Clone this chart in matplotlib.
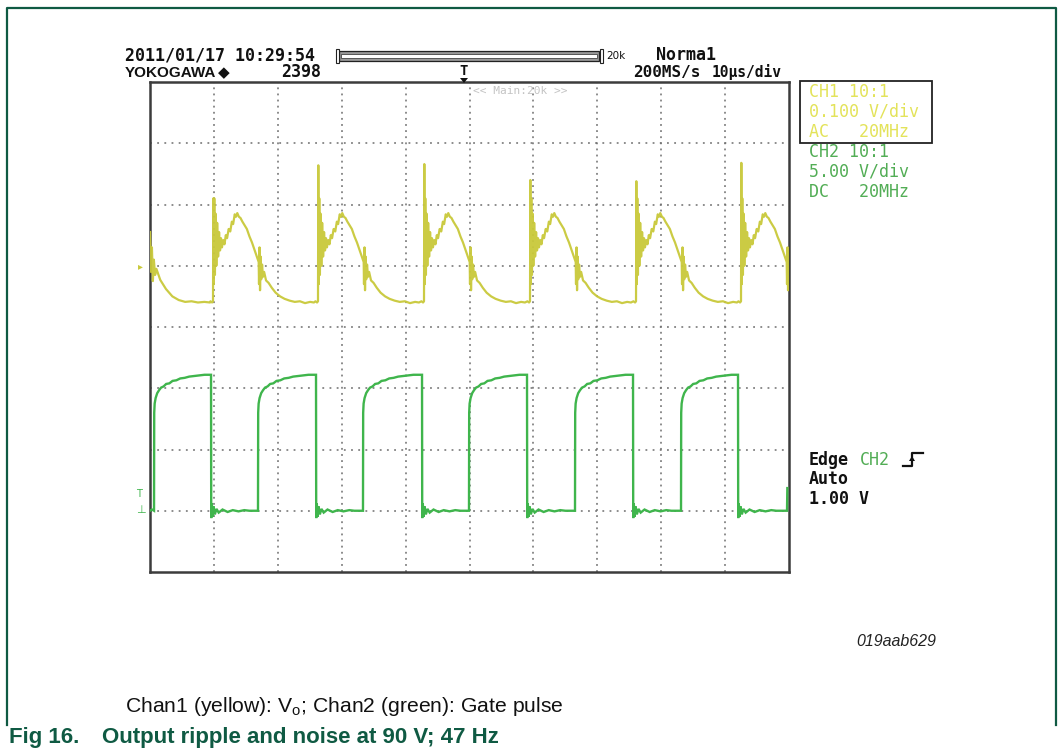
import matplotlib
matplotlib.use("Agg")
import matplotlib.pyplot as plt
from matplotlib.lines import Line2D
from matplotlib.patches import Rectangle, Polygon
from matplotlib import font_manager

W, H = 1063, 753

# ---------------- data ----------------
# time axis in microseconds (10 us/div, 10 div), vertical in divisions (8 div)
# Channel 1 (yellow): output ripple
yellow_lead_t = [0.0, 0.15, 0.30, 0.45, 0.60, 0.80, 1.00, 1.60, 2.50, 3.50, 4.50, 5.50, 6.50, 7.50, 8.50, 9.40]
yellow_lead_v = [1.55, 0.90, 1.30, 0.75, 1.10, 0.85, 0.95, 0.77, 0.62, 0.50, 0.44, 0.41, 0.42, 0.40, 0.41, 0.40]
yellow_spike_t = [9.86, 26.29, 42.88, 59.47, 76.06, 92.49]
yellow_spike_top = [2.10, 2.64, 2.66, 2.40, 2.38, 2.68]
# one ripple cycle, relative to its switching spike (None = spike top)
yellow_dt = [-0.40, -0.15, 0.00, 0.05, 0.12, 0.20, 0.30, 0.40, 0.52, 0.65, 0.80, 0.95,
             1.10, 1.25, 1.40, 1.60, 1.80, 2.00, 2.20, 2.45, 2.70, 2.95, 3.15, 3.40,
             3.60, 3.80, 4.05, 4.30, 4.60, 4.95, 5.30, 5.70, 6.10, 6.50, 6.90, 7.15,
             7.20, 7.28, 7.36, 7.45, 7.55, 7.68, 7.82, 8.00, 8.30, 8.70, 9.20, 9.80,
             10.50, 11.20, 12.00, 12.80, 13.60, 14.40, 15.20, 15.80]
yellow_v = [0.42, 0.40, 0.42, None, 0.70, 2.10, 0.85, 1.85, 1.00, 1.70, 1.15, 1.55,
            1.25, 1.45, 1.30, 1.42, 1.35, 1.50, 1.45, 1.60, 1.56, 1.72, 1.68, 1.84,
            1.80, 1.86, 1.80, 1.78, 1.72, 1.66, 1.60, 1.48, 1.38, 1.26, 1.14, 1.06,
            0.70, 1.30, 0.60, 1.15, 0.78, 1.02, 0.82, 0.90, 0.76, 0.72, 0.64, 0.56,
            0.50, 0.46, 0.43, 0.41, 0.42, 0.39, 0.41, 0.40]

# Channel 2 (green): gate pulse
green_lead_t = [0.0, 0.30]
green_lead_v = [-3.00, -2.98]
green_rise_t = [0.63, 16.90, 33.33, 49.92, 66.51, 83.10]
green_fall_t = [9.55, 25.98, 42.57, 59.00, 75.59, 92.02]
green_high_dt = [0.00, 0.03, 0.10, 0.25, 0.50, 0.80, 1.10, 1.50, 1.90, 2.40, 2.90,
                 3.50, 4.10, 4.80, 5.50, 6.30, 7.10, 7.90, 8.60]
green_high_v = [-3.00, -1.40, -1.25, -1.16, -1.08, -1.03, -0.99, -0.97, -0.93, -0.92, -0.88,
                -0.87, -0.84, -0.83, -0.81, -0.80, -0.79, -0.78, -0.78]
green_low_dt = [0.00, 0.03, 0.12, 0.25, 0.40, 0.60, 0.85, 1.20, 1.80, 2.60, 3.40, 4.30, 5.20, 6.00, 7.00]
green_low_v = [-0.78, -3.12, -2.88, -3.10, -2.93, -3.06, -2.97, -3.03, -2.98, -3.02, -2.99, -3.01, -2.99, -3.00, -3.00]
green_tail_t = [99.69, 99.74]
green_tail_v = [-3.00, -2.63]

# on-screen texts
header_date = "2011/01/17 10:29:54"
header_brand = "YOKOGAWA"
header_count = "2398"
header_mode = "Norma1"
header_rate = "200MS/s"
header_tdiv = "10\u00b5s/div"
ch1_lines = ["CH1 10:1", "0.100 V/div", "AC   20MHz"]
ch2_lines = ["CH2 10:1", "5.00 V/div", "DC   20MHz"]
trig_lines = ["Edge", "Auto", "1.00 V"]
fig_id = "019aab629"
caption = "Chan1 (yellow): V$_\\mathregular{o}$; Chan2 (green): Gate pulse"
title_num = "Fig 16."
title_txt = "Output ripple and noise at 90 V; 47 Hz"

YEL = "#c9c93a"
GRN = "#3fb54c"
YEL_TXT = "#e3e35a"
GRN_TXT = "#52ad55"
DKGRN = "#0f5a43"

# ---------------- build traces ----------------
yt, yv = list(yellow_lead_t), list(yellow_lead_v)
for s, top in zip(yellow_spike_t, yellow_spike_top):
    for dt, v in zip(yellow_dt, yellow_v):
        yt.append(s + dt)
        yv.append(top if v is None else v)

gt, gv = list(green_lead_t), list(green_lead_v)
for r, f in zip(green_rise_t, green_fall_t):
    for dt, v in zip(green_high_dt, green_high_v):
        gt.append(r + dt); gv.append(v)
    for dt, v in zip(green_low_dt, green_low_v):
        gt.append(f + dt); gv.append(v)
gt += green_tail_t
gv += green_tail_v

# ---------------- figure ----------------
fig = plt.figure(figsize=(W / 100, H / 100), dpi=100)
fig.patch.set_facecolor("white")


def px(x, y):
    return x / W, 1 - y / H


def T(x, y, s, **kw):
    kw.setdefault("va", "center")
    kw.setdefault("ha", "left")
    fx, fy = px(x, y)
    return fig.text(fx, fy, s, **kw)


installed = {f.name for f in font_manager.fontManager.ttflist}
brand_family = "Liberation Sans Narrow" if "Liberation Sans Narrow" in installed else "Liberation Sans"
brand_size = 13 if brand_family == "Liberation Sans Narrow" else 11

# outer document frame
bx = [7, 7, 1056, 1056]
by = [725, 8, 8, 725]
fig.add_artist(Line2D([b / W for b in bx], [1 - b / H for b in by], color=DKGRN, lw=1.6))

# scope screen
ax = fig.add_axes([150 / W, 1 - 572 / H, 639 / W, 490 / H])
ax.set_xlim(0, 100)
ax.set_ylim(-4, 4)
ax.set_xticks([])
ax.set_yticks([])
for sp in ax.spines.values():
    sp.set_color("#3c3c3c")
    sp.set_linewidth(1.8)
for k in range(1, 10):
    ax.axvline(k * 10, color="#6e6e6e", lw=1.1, ls=(0, (1.2, 2.8)), zorder=1)
for k in range(-3, 4):
    ax.axhline(k, color="#6e6e6e", lw=1.1, ls=(0, (1.2, 3.5)), zorder=1)

ax.plot(gt, gv, color=GRN, lw=1.7, zorder=3, solid_joinstyle="miter")
ax.plot(yt, yv, color=YEL, lw=1.6, zorder=3, alpha=0.95)

ax.text(58.0, 3.85, "<< Main:20k >>", color="#c4c4c4", fontsize=8,
        family="DejaVu Sans Mono", ha="center", va="center")

mono = dict(family="DejaVu Sans Mono", fontweight="bold", color="#111111")

# header
T(125, 56, header_date, fontsize=12, **mono)
T(125, 73, header_brand, fontsize=brand_size, family=brand_family,
  fontweight="bold", color="#111111")
T(218, 73, "\u25c6", fontsize=11, color="#111111", family="DejaVu Sans")
T(281, 72, header_count, fontsize=12, **mono)
T(656, 55, header_mode, fontsize=12, **mono)
T(633, 72, header_rate, fontsize=11.5, **mono)
T(712, 72, header_tdiv, fontsize=10.5, **mono)

# record-length bar
fig.add_artist(Rectangle(px(339, 61), 260 / W, 10 / H, facecolor="#9a9a9a",
                         edgecolor="#222222", lw=0.9, transform=fig.transFigure))
fig.add_artist(Rectangle(px(341, 58), 256 / W, 4 / H, facecolor="white",
                         edgecolor="#444444", lw=0.6, transform=fig.transFigure))
for bxp in (336, 600):
    fig.add_artist(Rectangle(px(bxp, 63), 3 / W, 14 / H, facecolor="white",
                             edgecolor="#222222", lw=0.8, transform=fig.transFigure))
T(606, 56, "20k", fontsize=7.5, family="DejaVu Sans", color="#111111")

# trigger position marker
T(464, 71, "T", fontsize=10, ha="center", **mono)
fig.add_artist(Polygon([px(460, 78), px(468, 78), px(464, 83)], closed=True,
                       facecolor="#111111", edgecolor="none", transform=fig.transFigure))

# channel info panel
fig.add_artist(Rectangle(px(800, 143), 132 / W, 62 / H, facecolor="none",
                         edgecolor="#222222", lw=1.3, transform=fig.transFigure))
for i, s in enumerate(ch1_lines):
    T(809, 92 + 20 * i, s, fontsize=12, family="DejaVu Sans Mono", color=YEL_TXT)
for i, s in enumerate(ch2_lines):
    T(809, 152 + 20 * i, s, fontsize=12, family="DejaVu Sans Mono", color=GRN_TXT)

# trigger info
T(809, 460, trig_lines[0], fontsize=12, **mono)
T(860, 460, "CH2", fontsize=12, family="DejaVu Sans Mono", color=GRN_TXT)
T(809, 479, trig_lines[1], fontsize=12, **mono)
T(809, 499, trig_lines[2], fontsize=12, **mono)
edge_x = [903, 912, 912, 923]
edge_y = [466, 466, 453, 453]
fig.add_artist(Line2D([e / W for e in edge_x], [1 - e / H for e in edge_y], color="#111111", lw=1.6))
fig.add_artist(Polygon([px(909, 461), px(915, 461), px(912, 456)], closed=True,
                       facecolor="#111111", edgecolor="none", transform=fig.transFigure))

# left-side channel markers
T(138, 266, "\u25b8", fontsize=7, color=YEL, family="DejaVu Sans")
T(136, 494, "T", fontsize=7, color=GRN, family="DejaVu Sans")
T(136, 510, "\u22a5", fontsize=8, color=GRN, family="DejaVu Sans")

# document texts
T(856, 642, fig_id, fontsize=11.5, family="Liberation Sans", style="italic", color="#222222")
T(125, 707, caption, fontsize=15.2, family="Liberation Sans", color="#111111")
T(9, 737, title_num, fontsize=16.0, family="Liberation Sans", fontweight="bold", color=DKGRN)
T(102, 737, title_txt, fontsize=16.0, family="Liberation Sans", fontweight="bold", color=DKGRN)

fig.savefig("out.png", dpi=100, facecolor="white")
